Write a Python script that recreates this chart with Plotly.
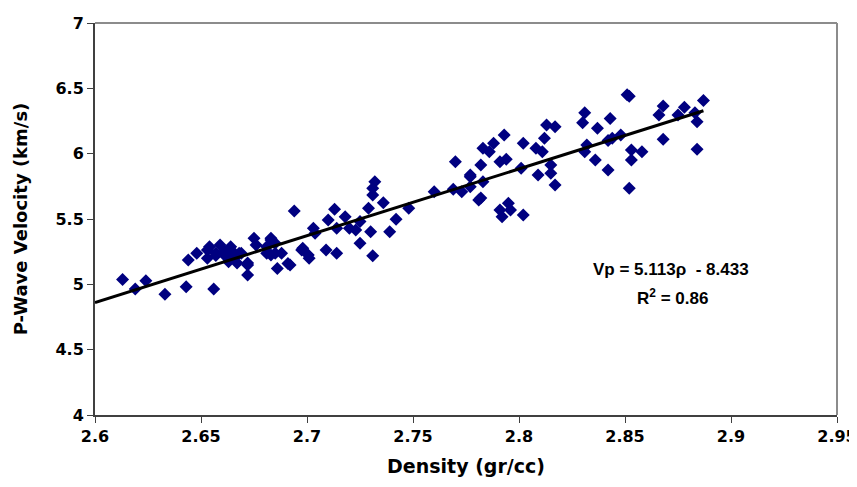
import plotly.graph_objects as go

density = [
    2.613, 2.619, 2.624, 2.633, 2.643, 2.644, 2.648, 2.654, 2.653, 2.656,
    2.659, 2.657, 2.661, 2.664, 2.665, 2.663, 2.669, 2.667, 2.672, 2.672,
    2.675, 2.676, 2.681, 2.683, 2.685, 2.683, 2.686, 2.688, 2.691, 2.653,
    2.657, 2.665, 2.661, 2.668, 2.672, 2.683, 2.681, 2.685, 2.692, 2.6975,
    2.7006, 2.7038, 2.694, 2.698, 2.701, 2.703, 2.709, 2.714, 2.713, 2.710,
    2.714, 2.718, 2.720, 2.723, 2.725, 2.725, 2.729, 2.730, 2.732, 2.731,
    2.731, 2.731, 2.736, 2.742, 2.739, 2.748, 2.760, 2.769, 2.770, 2.773,
    2.777, 2.777, 2.781, 2.777, 2.783, 2.782, 2.782, 2.783, 2.786, 2.788,
    2.793, 2.791, 2.794, 2.791, 2.792, 2.795, 2.796, 2.801, 2.802, 2.802,
    2.808, 2.811, 2.812, 2.813, 2.817, 2.809, 2.815, 2.815, 2.817, 2.831,
    2.830, 2.837, 2.843, 2.832, 2.831, 2.836, 2.844, 2.848, 2.842, 2.852,
    2.853, 2.853, 2.858, 2.851, 2.852, 2.866, 2.868, 2.868, 2.878, 2.875,
    2.883, 2.884, 2.887, 2.884, 2.842,
]
velocity = [
    5.037, 4.964, 5.028, 4.924, 4.982, 5.186, 5.237, 5.288, 5.199, 4.964,
    5.301, 5.237, 5.250, 5.288, 5.250, 5.173, 5.237, 5.163, 5.163, 5.071,
    5.352, 5.301, 5.288, 5.352, 5.314, 5.224, 5.122, 5.237, 5.160, 5.263,
    5.220, 5.224, 5.224, 5.237, 5.148, 5.339, 5.237, 5.237, 5.148, 5.263,
    5.224, 5.390, 5.561, 5.276, 5.199, 5.429, 5.263, 5.237, 5.574, 5.492,
    5.429, 5.518, 5.429, 5.416, 5.480, 5.314, 5.582, 5.403, 5.785, 5.735,
    5.684, 5.219, 5.625, 5.498, 5.403, 5.582, 5.709, 5.727, 5.939, 5.709,
    5.837, 5.747, 5.645, 5.824, 5.786, 5.660, 5.913, 6.041, 6.015, 6.079,
    6.143, 5.939, 5.957, 5.569, 5.518, 5.620, 5.569, 5.888, 6.079, 5.531,
    6.041, 6.015, 6.118, 6.219, 6.206, 5.837, 5.913, 5.850, 5.760, 6.314,
    6.237, 6.194, 6.270, 6.066, 6.015, 5.952, 6.118, 6.143, 5.875, 5.735,
    6.028, 5.952, 6.015, 6.450, 6.440, 6.296, 6.365, 6.110, 6.355, 6.296,
    6.314, 6.245, 6.406, 6.033, 6.100,
]

slope = 5.113
intercept = -8.433
trend_x = [2.6, max(density)]
trend_y = [slope * v + intercept for v in trend_x]

x_ticks = [2.6, 2.65, 2.7, 2.75, 2.8, 2.85, 2.9, 2.95]
y_ticks = [4, 4.5, 5, 5.5, 6, 6.5, 7]

tick_font = "DejaVu Sans, sans-serif"
text_font = "Liberation Sans, Arial, sans-serif"

fig = go.Figure()
fig.add_trace(go.Scatter(
    x=density, y=velocity, mode="markers",
    marker=dict(symbol="diamond", size=10, color="#000080",
                line=dict(width=0)),
    showlegend=False,
))
fig.add_trace(go.Scatter(
    x=trend_x, y=trend_y, mode="lines",
    line=dict(color="black", width=3),
    showlegend=False,
))

fig.add_annotation(
    x=2.8717, y=5.11, xref="x", yref="y",
    text="<b>Vp = 5.113ρ  - 8.433</b>", showarrow=False,
    font=dict(family=text_font, size=17, color="black"),
)
fig.add_annotation(
    x=2.8722, y=4.903, xref="x", yref="y",
    text="<b>R<sup>2</sup> = 0.86</b>", showarrow=False,
    font=dict(family=text_font, size=17, color="black"),
)

# plot-area border on top and right
fig.add_shape(type="line", xref="paper", yref="paper", x0=0, x1=1, y0=1, y1=1,
              line=dict(color="#8c8c8c", width=2))
fig.add_shape(type="line", xref="paper", yref="paper", x0=1, x1=1, y0=0, y1=1,
              line=dict(color="#8c8c8c", width=2))

# page body has an 8px default margin; compensate so the plot area
# lands at the same screen position as in the reference
fig.update_layout(
    width=849, height=479,
    margin=dict(l=87, r=20, t=15, b=72),
    paper_bgcolor="white", plot_bgcolor="white",
    font=dict(family=text_font, color="black"),
    xaxis=dict(
        range=[2.6, 2.95], tickvals=x_ticks,
        ticktext=[f"<b>{t:g}</b>" for t in x_ticks],
        showgrid=False, zeroline=False, automargin=False,
        showline=True, linecolor="#404040", linewidth=2,
        ticks="outside", ticklen=6, tickcolor="#404040",
        tickfont=dict(size=16, family=tick_font),
        title=dict(text="<b>Density (gr/cc)</b>",
                   font=dict(size=19, family=tick_font), standoff=14),
    ),
    yaxis=dict(
        range=[4, 7], tickvals=y_ticks,
        ticktext=[f"<b>{t:g}</b>" for t in y_ticks],
        showgrid=False, zeroline=False, automargin=False,
        showline=True, linecolor="#404040", linewidth=2,
        ticks="outside", ticklen=6, tickcolor="#404040",
        tickfont=dict(size=16, family=tick_font),
        title=dict(text="<b>P-Wave Velocity (km/s)</b>",
                   font=dict(size=18, family=tick_font), standoff=23),
    ),
)

fig.write_html("out.html")
